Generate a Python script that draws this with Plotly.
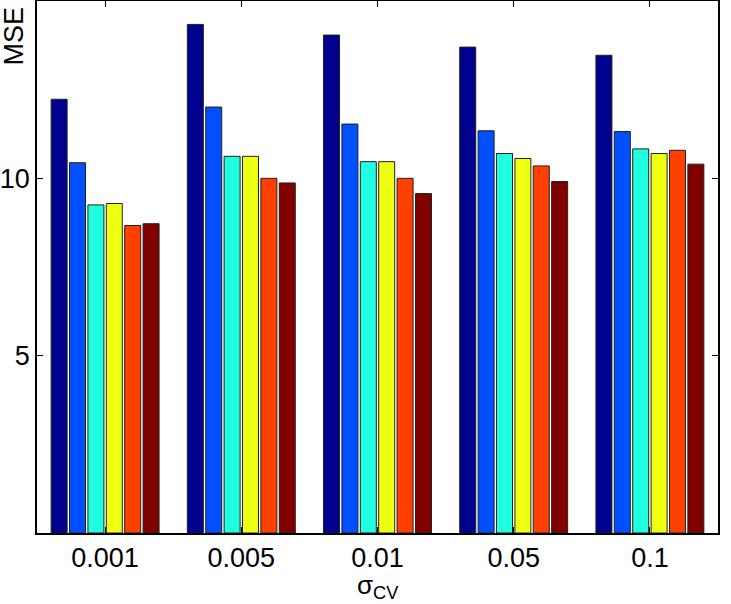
import plotly.graph_objects as go

categories = ["0.001", "0.005", "0.01", "0.05", "0.1"]
series_names = ["S1", "S2", "S3", "S4", "S5", "S6"]
values = [
    [12.23, 14.34, 14.04, 13.70, 13.47],
    [10.44, 12.01, 11.53, 11.34, 11.32],
    [9.25, 10.62, 10.47, 10.70, 10.83],
    [9.29, 10.62, 10.47, 10.56, 10.70],
    [8.67, 10.00, 10.00, 10.35, 10.79],
    [8.72, 9.87, 9.57, 9.91, 10.40],
]
colors = ["#00008F", "#0050FF", "#20FFDF", "#EFFF10", "#FF4000", "#800000"]

x_pos = list(range(1, len(categories) + 1))

fig = go.Figure()
for name, vals, col in zip(series_names, values, colors):
    fig.add_trace(go.Bar(
        x=x_pos, y=vals, name=name,
        marker=dict(color=col, line=dict(color="#202020", width=1)),
    ))

font_family = "Liberation Sans, Arial, Helvetica, sans-serif"
fig.update_layout(
    width=731, height=604,
    margin=dict(l=37, r=13, t=1, b=71),
    paper_bgcolor="white", plot_bgcolor="white",
    barmode="group", bargap=0.19, bargroupgap=0.13,
    showlegend=False,
    font=dict(family=font_family, size=27, color="black"),
)
fig.update_xaxes(
    range=[0.5, 5.5], tickmode="array", tickvals=x_pos, ticktext=categories,
    ticks="inside", ticklen=6, tickcolor="black", tickwidth=1,
    showline=True, linecolor="black", linewidth=1.5, mirror="ticks",
    showgrid=False, zeroline=False, automargin=False,
    tickfont=dict(size=27),
)
fig.update_yaxes(
    range=[0, 15], tickvals=[5, 10], ticktext=["5", "10"],
    ticks="inside", ticklen=6, tickcolor="black", tickwidth=1,
    showline=True, linecolor="black", linewidth=1.5, mirror="ticks",
    showgrid=False, zeroline=False, automargin=False,
    tickfont=dict(size=27),
)
fig.add_annotation(
    text="MSE", xref="paper", yref="paper", x=-0.034, y=0.935,
    xanchor="center", yanchor="middle", textangle=-90, showarrow=False,
    font=dict(size=27, family=font_family),
)
fig.add_annotation(
    text="σ<sub>CV</sub>", xref="paper", yref="paper", x=0.5, y=-0.101,
    xanchor="center", yanchor="middle", showarrow=False,
    font=dict(size=26, family=font_family),
)

fig.write_html("out.html")
